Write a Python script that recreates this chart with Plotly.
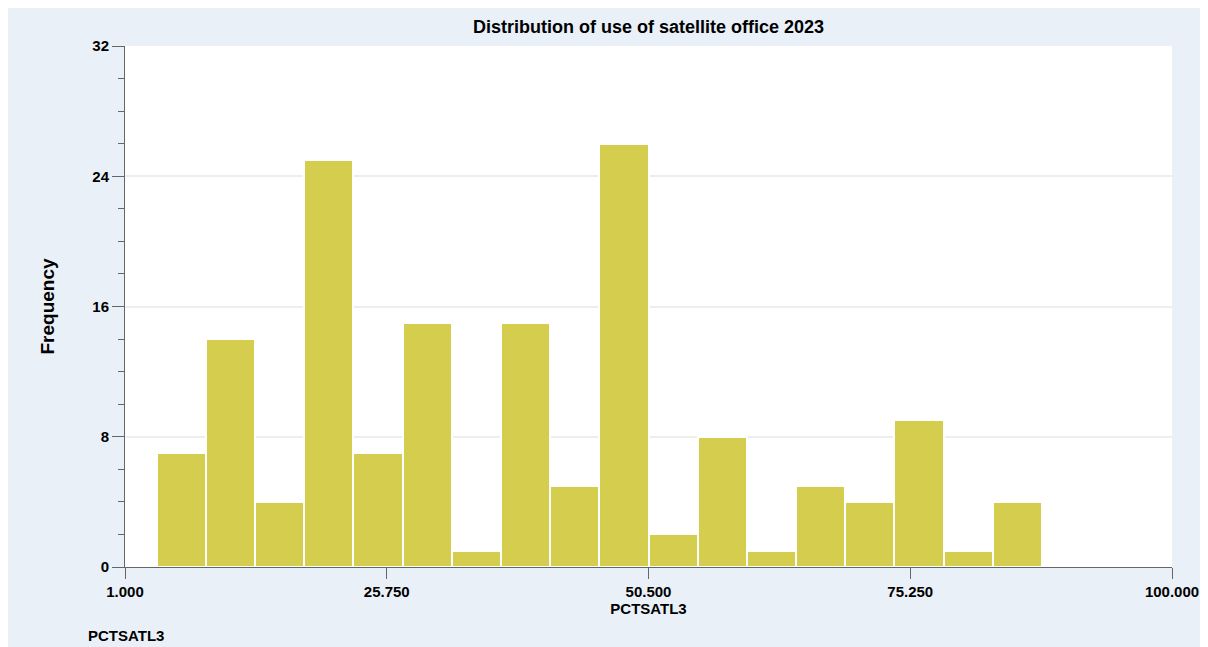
""" plot.py

Histogram of PCTSATL3 (use of satellite office 2023).
"""
# Imports #
import numpy as np
import plotly.graph_objects as go


# Data #
counts = [7, 14, 4, 25, 7, 15, 1, 15, 5, 26, 2, 8, 1, 5, 4, 9, 1, 4]
bin_start = 4.0
bin_width = 4.65
x_tickvals = [1.0, 25.75, 50.5, 75.25, 100.0]
y_tickvals = [0, 8, 16, 24, 32]

title_text = "Distribution of use of satellite office 2023"
x_title = "PCTSATL3"
y_title = "Frequency"
note_text = "PCTSATL3"


# Definitions #
bar_color = "#d5cd4e"
panel_color = "#eaf0f8"
axis_color = "#666666"
font_family = "Liberation Sans, Arial, sans-serif"

# figure and plot area in pixels (page adds an 8px body margin)
W, H = 1200, 639
L, R, T, B = 117, 36, 38, 80


def plot_histogram():
    fig = go.Figure()

    centers = bin_start + bin_width * (np.arange(len(counts)) + 0.5)
    fig.add_trace(go.Bar(
        x=centers,
        y=counts,
        width=bin_width,
        marker=dict(color=bar_color, line=dict(color="white", width=2)),
        showlegend=False,
    ))

    fig.update_xaxes(
        range=[x_tickvals[0], x_tickvals[-1]],
        tickmode="array",
        tickvals=x_tickvals,
        ticktext=[f"{v:.3f}" for v in x_tickvals],
        ticks="outside",
        ticklen=11,
        tickwidth=1,
        tickcolor=axis_color,
        showline=True,
        linecolor=axis_color,
        linewidth=1,
        showgrid=False,
        zeroline=False,
        tickfont=dict(size=15, color="black", family=font_family, weight="bold"),
        title=dict(text=x_title, standoff=4,
                   font=dict(size=15, color="black", family=font_family, weight="bold")),
    )
    fig.update_yaxes(
        range=[y_tickvals[0], y_tickvals[-1]],
        tickmode="array",
        tickvals=y_tickvals,
        ticks="outside",
        ticklen=12,
        tickwidth=1,
        tickcolor=axis_color,
        showline=True,
        linecolor=axis_color,
        linewidth=1,
        showgrid=True,
        gridcolor="#eeeeee",
        gridwidth=1.5,
        zeroline=False,
        minor=dict(dtick=2, ticks="outside", ticklen=6, tickcolor=axis_color, showgrid=False),
        tickfont=dict(size=15, color="black", family=font_family, weight="bold"),
        title=dict(text=y_title, standoff=32,
                   font=dict(size=19, color="black", family=font_family, weight="bold")),
    )

    pw, ph = W - L - R, H - T - B
    fig.add_annotation(
        text=note_text, xref="paper", yref="paper",
        x=(78 - L) / pw, y=(H - B - 627) / ph,
        xanchor="left", yanchor="middle", showarrow=False,
        font=dict(size=15, color="black", family=font_family, weight="bold"),
    )

    fig.update_layout(
        width=W,
        height=H,
        margin=dict(l=L, r=R, t=T, b=B, autoexpand=False),
        paper_bgcolor=panel_color,
        plot_bgcolor="white",
        bargap=0,
        title=dict(text=title_text, x=0.5, xref="paper", y=1 - 19 / H, yanchor="middle",
                   font=dict(size=18, color="black", family=font_family, weight="bold")),
        font=dict(family=font_family),
    )

    return fig


fig = plot_histogram()
fig.write_html("out.html")
